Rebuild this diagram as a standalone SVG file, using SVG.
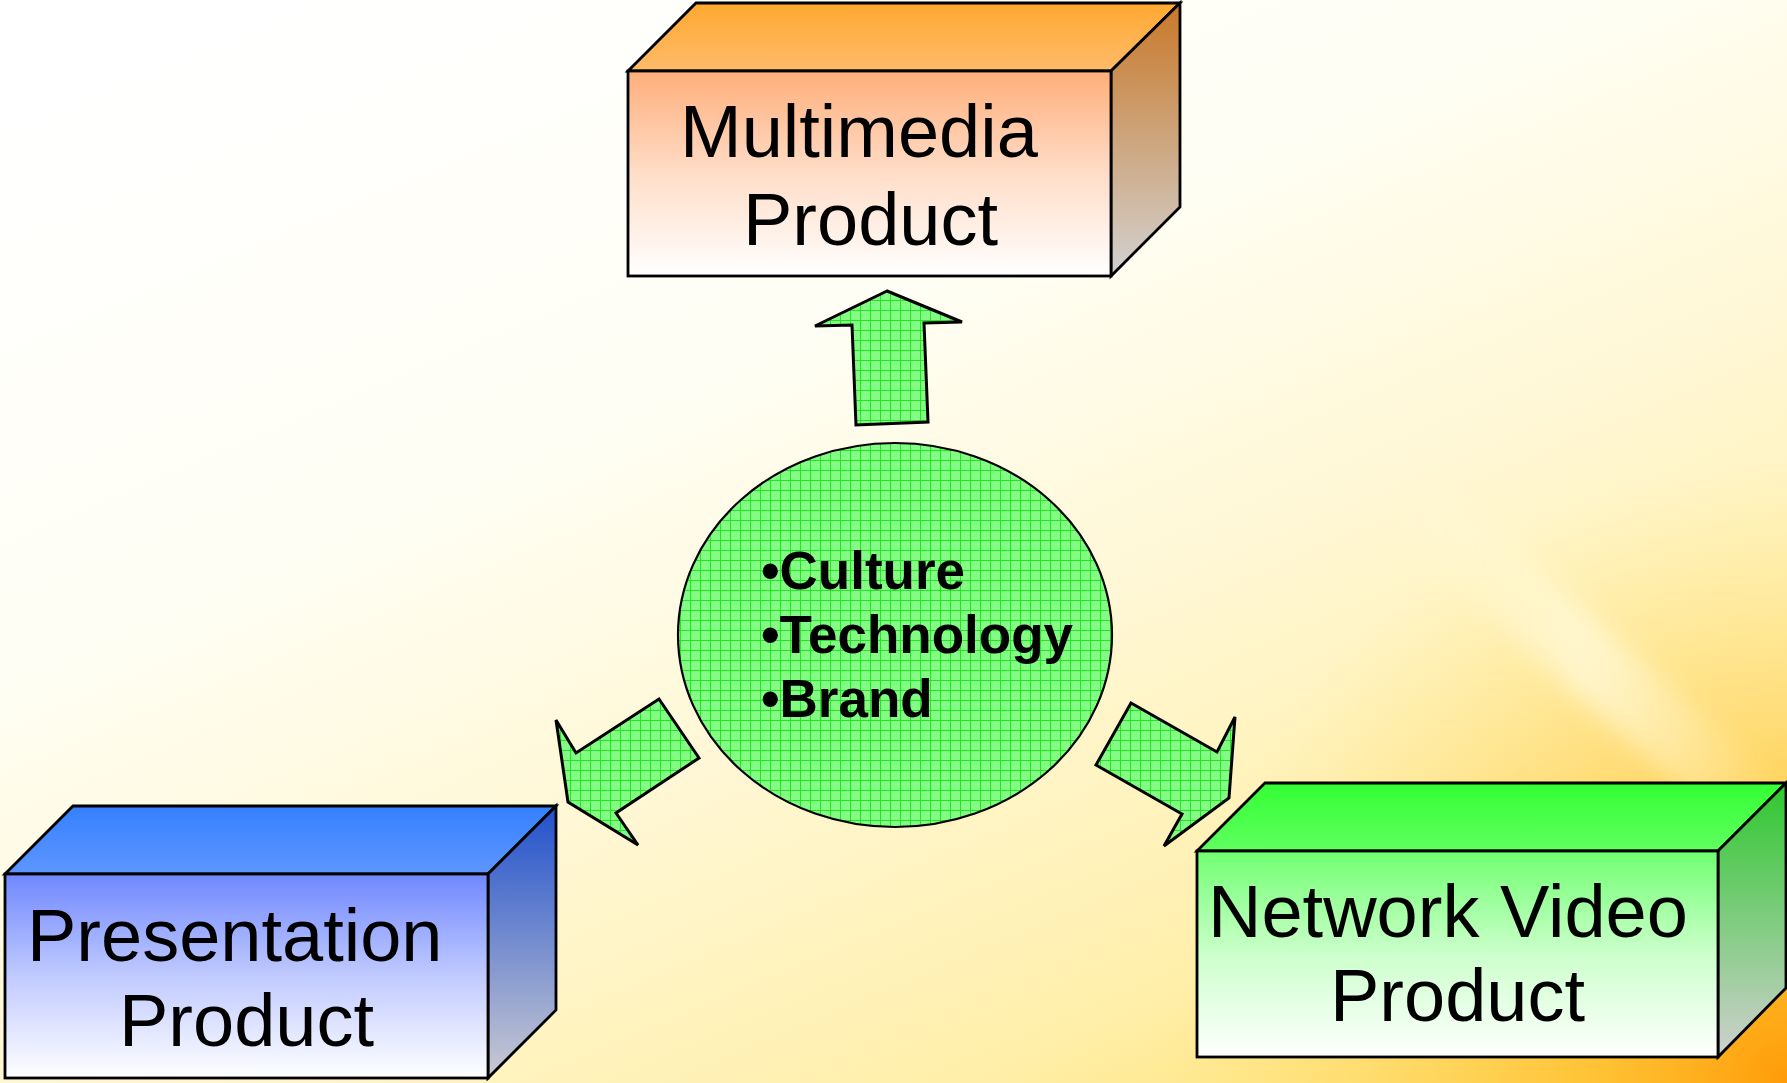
<svg xmlns="http://www.w3.org/2000/svg" width="1787" height="1083" viewBox="0 0 1787 1083">
<defs>
<style>
.edge{stroke:#000;stroke-width:2.8;stroke-linejoin:miter}
.lbl{font-family:"Liberation Sans",Arial,sans-serif;font-size:74px;fill:#000}
.bul{font-family:"Liberation Sans",Arial,sans-serif;font-size:53px;font-weight:bold;fill:#000}
.arr{fill:url(#grid);stroke:#000;stroke-width:3;stroke-linejoin:miter}
</style>
<linearGradient id="bg" x1="0.15" y1="0" x2="0.85" y2="1">
<stop offset="0" stop-color="#ffffff"/>
<stop offset="0.35" stop-color="#fffef4"/>
<stop offset="0.6" stop-color="#fff7d4"/>
<stop offset="0.85" stop-color="#ffefaa"/>
<stop offset="1" stop-color="#ffe070"/>
</linearGradient>
<radialGradient id="corner" cx="1787" cy="1083" r="620" gradientUnits="userSpaceOnUse">
<stop offset="0" stop-color="#ff9c08" stop-opacity="1"/>
<stop offset="0.3" stop-color="#ffbc28" stop-opacity="0.85"/>
<stop offset="1" stop-color="#ffe070" stop-opacity="0"/>
</radialGradient>
<linearGradient id="streak" x1="0" y1="0" x2="1" y2="0">
<stop offset="0" stop-color="#fff8d0" stop-opacity="0"/>
<stop offset="0.5" stop-color="#fffbe0" stop-opacity="0.9"/>
<stop offset="1" stop-color="#fff8d0" stop-opacity="0"/>
</linearGradient>
<filter id="blur"><feGaussianBlur stdDeviation="12"/></filter>
<pattern id="grid" width="10" height="10" patternUnits="userSpaceOnUse">
<rect width="10" height="10" fill="#84fb84"/>
<path d="M0 0.5H10M0.5 0V10" stroke="#22e622" stroke-width="1"/>
</pattern>
<linearGradient id="mTop" x1="0" y1="0" x2="0" y2="1"><stop offset="0" stop-color="#ffa830"/><stop offset="1" stop-color="#ffbb6a"/></linearGradient>
<linearGradient id="mFront" x1="0" y1="0" x2="0" y2="1"><stop offset="0" stop-color="#ffae7a"/><stop offset="0.5" stop-color="#ffddc8"/><stop offset="1" stop-color="#ffffff"/></linearGradient>
<linearGradient id="mSide" x1="0" y1="0" x2="0" y2="1"><stop offset="0" stop-color="#c87828"/><stop offset="1" stop-color="#d2d2d2"/></linearGradient>
<linearGradient id="pTop" x1="0" y1="0" x2="0" y2="1"><stop offset="0" stop-color="#3580ff"/><stop offset="1" stop-color="#5e96ff"/></linearGradient>
<linearGradient id="pFront" x1="0" y1="0" x2="0" y2="1"><stop offset="0" stop-color="#7088ff"/><stop offset="0.5" stop-color="#c0caff"/><stop offset="1" stop-color="#ffffff"/></linearGradient>
<linearGradient id="pSide" x1="0" y1="0" x2="0" y2="1"><stop offset="0" stop-color="#2050cc"/><stop offset="1" stop-color="#cacad2"/></linearGradient>
<linearGradient id="nTop" x1="0" y1="0" x2="0" y2="1"><stop offset="0" stop-color="#33ff33"/><stop offset="1" stop-color="#60ff60"/></linearGradient>
<linearGradient id="nFront" x1="0" y1="0" x2="0" y2="1"><stop offset="0" stop-color="#70ff70"/><stop offset="0.5" stop-color="#ccffcc"/><stop offset="1" stop-color="#ffffff"/></linearGradient>
<linearGradient id="nSide" x1="0" y1="0" x2="0" y2="1"><stop offset="0" stop-color="#2ec82e"/><stop offset="1" stop-color="#d0d0d0"/></linearGradient>
</defs>

<g id="background">
<rect width="1787" height="1083" fill="url(#bg)"/>
<rect width="1787" height="1083" fill="url(#corner)"/>
<polygon points="1380,520 1460,500 1787,790 1787,880" fill="url(#streak)" filter="url(#blur)" opacity="0.8"/>
</g>

<g id="connectors">
<polygon class="arr" points="887,291 815,326 852,325 856,425 928,422 924,323 962,322"/>
<polygon class="arr" points="659,699 699,758 616,813 638,845 568,802 556,720 576,753"/>
<polygon class="arr" points="1131,703 1217,752 1235,717 1229,798 1164,846 1182,814 1096,765"/>
</g>

<g id="core">
<ellipse cx="895" cy="635" rx="217" ry="192" fill="url(#grid)" stroke="#000" stroke-width="2.2"/>
<text class="bul" x="761" y="589">•Culture</text>
<text class="bul" x="761" y="653">•Technology</text>
<text class="bul" x="761" y="717">•Brand</text>
</g>

<g id="multimedia">
<polygon class="edge" fill="url(#mTop)" points="628,71 696,3 1180,3 1111,71"/>
<polygon class="edge" fill="url(#mSide)" points="1111,71 1180,3 1180,207 1111,276"/>
<rect class="edge" fill="url(#mFront)" x="628" y="71" width="483" height="205"/>
<text class="lbl" x="680" y="157">Multimedia</text>
<text class="lbl" x="743" y="245">Product</text>
</g>

<g id="presentation">
<polygon class="edge" fill="url(#pTop)" points="5,874 73,806 556,806 488,874"/>
<polygon class="edge" fill="url(#pSide)" points="488,874 556,806 556,1010 488,1078"/>
<rect class="edge" fill="url(#pFront)" x="5" y="874" width="483" height="204"/>
<text class="lbl" x="27" y="961">Presentation</text>
<text class="lbl" x="119" y="1046">Product</text>
</g>

<g id="network">
<polygon class="edge" fill="url(#nTop)" points="1197,851 1265,783 1786,783 1718,851"/>
<polygon class="edge" fill="url(#nSide)" points="1718,851 1786,783 1786,988 1718,1057"/>
<rect class="edge" fill="url(#nFront)" x="1197" y="851" width="521" height="206"/>
<text class="lbl" x="1208" y="937">Network Video</text>
<text class="lbl" x="1330" y="1021">Product</text>
</g>
</svg>
